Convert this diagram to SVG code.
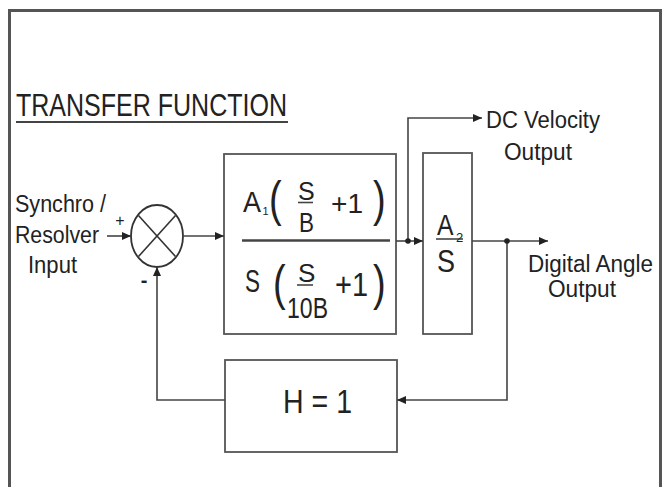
<svg xmlns="http://www.w3.org/2000/svg" width="663" height="487" viewBox="0 0 663 487">
<style>
  text { font-family: "Liberation Sans", Arial, sans-serif; fill: #222; }
  .lbl { font-size: 23px; }
  .ln { stroke: #444; stroke-width: 1.6; fill: none; }
  .box { stroke: #555; stroke-width: 1.8; fill: #fff; }
  .par { font-size: 38px; }
</style>
<defs>
  <marker id="arr" markerUnits="userSpaceOnUse" markerWidth="10" markerHeight="8" refX="9" refY="4" orient="auto">
    <path d="M0,0 L9,4 L0,8 Z" fill="#222"/>
  </marker>
</defs>
<rect width="663" height="487" fill="#fff"/>
<path d="M9.5,495 V10.5 H660.5 V495" fill="none" stroke="#555" stroke-width="3"/>

<g id="title">
  <text x="16" y="116" font-size="32" textLength="271" lengthAdjust="spacingAndGlyphs">TRANSFER FUNCTION</text>
  <line x1="16" y1="122" x2="288" y2="122" stroke="#444" stroke-width="2"/>
</g>

<g id="input-label">
  <text class="lbl" x="15" y="212" textLength="91" lengthAdjust="spacingAndGlyphs">Synchro /</text>
  <text class="lbl" x="15" y="243" textLength="84" lengthAdjust="spacingAndGlyphs">Resolver</text>
  <text class="lbl" x="28" y="273" textLength="49" lengthAdjust="spacingAndGlyphs">Input</text>
</g>

<g id="summing-junction">
  <ellipse cx="157" cy="236" rx="26" ry="31" fill="#fff" stroke="#333" stroke-width="1.8"/>
  <line x1="138.5" y1="215.5" x2="175.5" y2="256.5" stroke="#333" stroke-width="1.6"/>
  <line x1="175.5" y1="215.5" x2="138.5" y2="256.5" stroke="#333" stroke-width="1.6"/>
  <text x="120" y="226" font-size="16" text-anchor="middle">+</text>
  <text x="144" y="287" font-size="20" font-weight="bold" text-anchor="middle">-</text>
</g>

<g id="forward-block">
  <rect class="box" x="224" y="154" width="172" height="180"/>
  <text x="243" y="212" font-size="29" textLength="18" lengthAdjust="spacingAndGlyphs">A</text>
  <text x="262.5" y="215" font-size="11">1</text>
  <text class="par" transform="translate(269,216) scale(1,1.3)">(</text>
  <text x="298" y="200" font-size="25">S</text>
  <line x1="298" y1="202.5" x2="313" y2="202.5" stroke="#444" stroke-width="1.6"/>
  <text x="299" y="232" font-size="27" textLength="15" lengthAdjust="spacingAndGlyphs">B</text>
  <text x="331" y="213" font-size="28" textLength="32" lengthAdjust="spacingAndGlyphs">+1</text>
  <text class="par" transform="translate(373,216) scale(1,1.3)">)</text>
  <line x1="242" y1="240.5" x2="390" y2="240.5" stroke="#444" stroke-width="2.4"/>
  <text x="245" y="292" font-size="31" textLength="15" lengthAdjust="spacingAndGlyphs">S</text>
  <text class="par" transform="translate(273,299.5) scale(1,1.3)">(</text>
  <text x="298" y="282" font-size="26">S</text>
  <line x1="297" y1="285" x2="313" y2="285" stroke="#444" stroke-width="1.6"/>
  <text x="287" y="318" font-size="29" textLength="41" lengthAdjust="spacingAndGlyphs">10B</text>
  <text x="335" y="296" font-size="33" textLength="33" lengthAdjust="spacingAndGlyphs">+1</text>
  <text class="par" transform="translate(373,299.5) scale(1,1.3)">)</text>
</g>

<g id="integrator-block">
  <rect class="box" x="423" y="153" width="49" height="181"/>
  <text x="437" y="235" font-size="30" textLength="16.5" lengthAdjust="spacingAndGlyphs">A</text>
  <line x1="436" y1="239" x2="463" y2="239" stroke="#444" stroke-width="1.6"/>
  <text x="456" y="242" font-size="13">2</text>
  <text x="437" y="272" font-size="31" textLength="18" lengthAdjust="spacingAndGlyphs">S</text>
</g>

<g id="feedback-block">
  <rect class="box" x="225" y="360" width="172" height="92"/>
  <text x="283" y="413" font-size="33" textLength="69" lengthAdjust="spacingAndGlyphs">H = 1</text>
</g>

<g id="dc-velocity-label">
  <text class="lbl" x="486" y="128" textLength="114" lengthAdjust="spacingAndGlyphs">DC Velocity</text>
  <text class="lbl" x="504" y="160" textLength="68" lengthAdjust="spacingAndGlyphs">Output</text>
</g>

<g id="digital-angle-label">
  <text class="lbl" x="528" y="272" textLength="125" lengthAdjust="spacingAndGlyphs">Digital Angle</text>
  <text class="lbl" x="548" y="297" textLength="68" lengthAdjust="spacingAndGlyphs">Output</text>
</g>

<g id="connectors">
  <line class="ln" x1="107" y1="236" x2="131" y2="236" marker-end="url(#arr)"/>
  <line class="ln" x1="183" y1="236" x2="224" y2="236" marker-end="url(#arr)"/>
  <line class="ln" x1="396" y1="241" x2="423" y2="241" marker-end="url(#arr)"/>
  <polyline class="ln" points="408,241 408,118 482,118" marker-end="url(#arr)"/>
  <line class="ln" x1="472" y1="241" x2="548" y2="241" marker-end="url(#arr)"/>
  <polyline class="ln" points="507,241 507,400 397,400" marker-end="url(#arr)"/>
  <polyline class="ln" points="225,400 157,400 157,267" marker-end="url(#arr)"/>
  <circle cx="408" cy="241" r="2.8" fill="#222"/>
  <circle cx="507" cy="241" r="2.8" fill="#222"/>
</g>
</svg>
